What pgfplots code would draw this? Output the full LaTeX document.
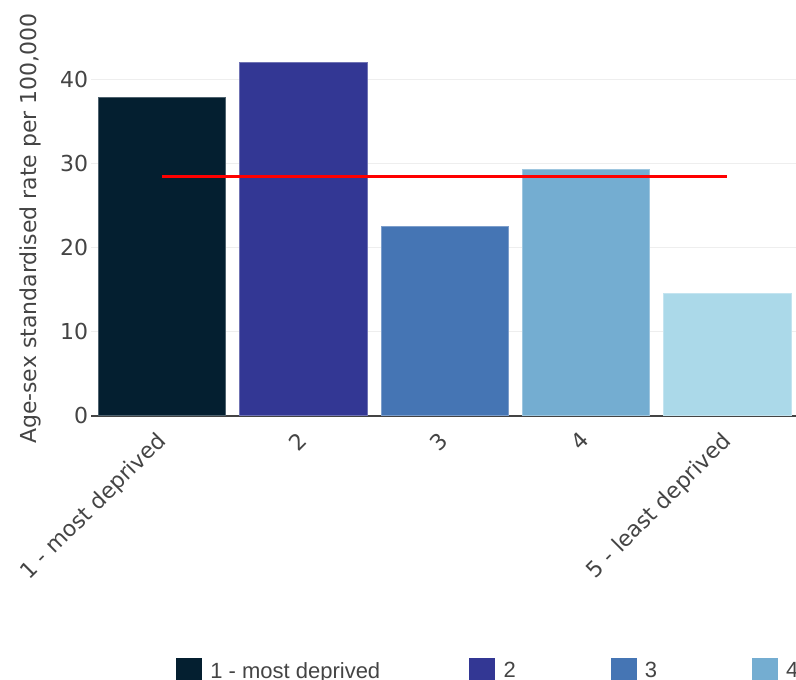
\documentclass[border=0pt]{standalone}
\usepackage{fontspec}
\setmainfont{DejaVu Sans}
\newfontfamily\legfont{Liberation Sans}
\usepackage{pgfplots}
\pgfplotsset{compat=1.18}
\definecolor{c1}{HTML}{041F30}
\definecolor{c2}{HTML}{333794}
\definecolor{c3}{HTML}{4575B4}
\definecolor{c4}{HTML}{74ADD1}
\definecolor{c5}{HTML}{ABD9E9}
\definecolor{txt}{HTML}{444444}
\definecolor{gridc}{HTML}{EEEEEE}
\begin{document}
\begin{tikzpicture}
\useasboundingbox (0pt,0pt) rectangle (796pt,680pt);
\clip (0pt,0pt) rectangle (796pt,680pt);
\begin{axis}[
  at={(91.35pt,264.3pt)}, anchor=south west,
  scale only axis, width=706.65pt, height=371.7pt,
  xmin=-0.5, xmax=4.5, ymin=0, ymax=44.2,
  axis x line*=bottom, axis y line*=left,
  y axis line style={draw=none},
  x axis line style={draw=txt, line width=2pt, -},
  major tick length=0pt,
  ytick={0,10,20,30,40},
  ymajorgrids, grid style={draw=gridc, line width=1pt},
  xtick={0,1,2,3,4},
  xticklabels={1 - most deprived,2,3,4,5 - least deprived},
  /pgf/number format/assume math mode=true,
  xticklabel style={rotate=45, anchor=north east, inner sep=0pt, xshift=-15.2pt, yshift=-5.5pt, font=\fontsize{22}{26}\selectfont, text=txt},
  yticklabel style={anchor=east, inner sep=0pt, xshift=-3pt, font=\fontsize{22}{26}\selectfont, text=txt},
  ylabel={Age-sex standardised rate per 100,000},
  ylabel style={at={(axis description cs:-0.0868,0.5036)}, anchor=center, inner sep=0pt, font=\fontsize{22}{26}\selectfont, text=txt},
  legend columns=5,
  legend style={at={(axis description cs:0.1198,-0.6868)}, anchor=west, draw=none, fill=none, inner sep=0pt, outer sep=0pt, column sep=0pt, font=\legfont\fontsize{22}{26}\selectfont, text=txt, nodes={inner sep=0pt}},
  legend image code/.code={\path[#1, draw=none] (0pt,-13pt) rectangle (26pt,13pt); \path (34pt,0pt);},
]
\addplot[ybar, bar width=0.9, bar shift=0pt, fill=c1, draw=c1!70!white, line width=0.6pt] coordinates {(0,37.9)};
\addlegendentry{\makebox[259pt][l]{1 - most deprived}}
\addplot[ybar, bar width=0.9, bar shift=0pt, fill=c2, draw=c2!70!white, line width=0.6pt] coordinates {(1,42.0)};
\addlegendentry{\makebox[107pt][l]{2}}
\addplot[ybar, bar width=0.9, bar shift=0pt, fill=c3, draw=c3!70!white, line width=0.6pt] coordinates {(2,22.5)};
\addlegendentry{\makebox[107pt][l]{3}}
\addplot[ybar, bar width=0.9, bar shift=0pt, fill=c4, draw=c4!70!white, line width=0.6pt] coordinates {(3,29.3)};
\addlegendentry{\makebox[107pt][l]{4}}
\addplot[ybar, bar width=0.9, bar shift=0pt, fill=c5, draw=c5!70!white, line width=0.6pt] coordinates {(4,14.5)};
\addlegendentry{\makebox[200pt][l]{5 - least deprived}}
\addplot[red, line width=3pt, forget plot] coordinates {(0,28.5) (4,28.5)};
\end{axis}
\end{tikzpicture}
\end{document}
